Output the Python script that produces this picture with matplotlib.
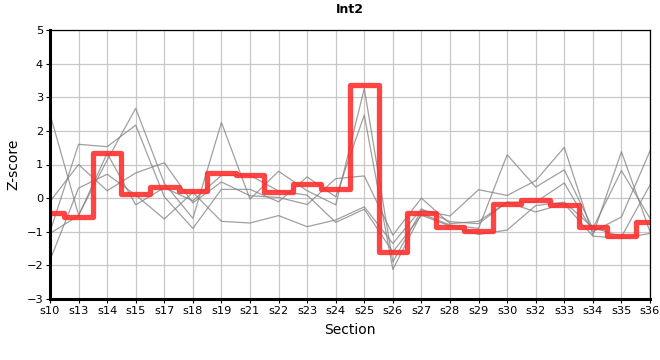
import matplotlib
matplotlib.use('Agg')
import matplotlib.pyplot as plt

sections = ['s10', 's13', 's14', 's15', 's17', 's18', 's19', 's21', 's22', 's23', 's24',
            's25', 's26', 's27', 's28', 's29', 's30', 's32', 's33', 's34', 's35', 's36']

# highlighted series (Int2)
int2 = [-0.45, -0.55, 1.35, 0.12, 0.34, 0.22, 0.75, 0.68, 0.19, 0.42, 0.26,
        3.36, -1.6, -0.44, -0.85, -0.97, -0.18, -0.06, -0.21, -0.85, -1.12, -0.72]

# other series, drawn in gray
others = [
    [2.5, -0.5, 1.13, 2.67, 0.44, -0.6, 2.25, -0.03, 0.8, 0.22, -0.2,
     3.26, -1.9, -0.36, -0.53, 0.25, 0.08, 0.52, 1.51, -1.1, 1.38, -1.0],
    [-1.0, 1.6, 1.53, 2.17, 0.04, -0.9, 0.26, 0.26, -0.11, 0.63, 0.04,
     2.47, -2.12, -0.46, -0.8, -0.9, 1.29, 0.33, 0.84, -0.9, 0.82, -0.6],
    [-0.1, 1.0, 0.22, 0.75, 1.05, -0.14, 0.48, 0.07, 0.02, -0.19, 0.58,
     0.66, -1.1, 0.0, -0.76, -0.69, -0.12, -0.41, -0.17, -1.13, -1.2, -1.05],
    [-1.85, 0.3, 0.71, 0.09, -0.62, 0.17, -0.69, -0.74, -0.52, -0.85, -0.65,
     -0.26, -1.35, -0.32, -0.7, -0.76, -0.12, -0.12, 0.45, -1.0, -0.56, 1.4],
    [-1.05, -0.52, 1.33, -0.2, 0.31, -0.08, 0.68, 0.68, 0.21, 0.09, -0.72,
     -0.33, -1.6, -0.51, -0.83, -1.08, -0.95, -0.22, -0.12, -0.87, -1.15, 0.39],
]

x = list(range(len(sections)))

fig = plt.figure(figsize=(6.6, 3.6), dpi=100)
ax = fig.add_axes([50/660, 1 - 299/360, 600/660, 269/360])

for s in others:
    ax.plot(x, s, color='#808080', alpha=0.75, linewidth=0.9)

ax.plot(x, int2, color='#ff2a2a', alpha=0.88, linewidth=3.8,
        drawstyle='steps-mid', solid_joinstyle='round', solid_capstyle='round')

ax.set_xlim(0, len(sections) - 1)
ax.set_ylim(-3, 5)
ax.set_xticks(x)
ax.set_xticklabels(sections)
ax.set_yticks(range(-3, 6))

ax.grid(color='#c8c8c8', linewidth=0.9)
ax.set_axisbelow(True)

for side in ['top', 'right']:
    ax.spines[side].set_linewidth(0.9)
for side in ['left', 'bottom']:
    ax.spines[side].set_linewidth(2.2)

ax.tick_params(labelsize=8.2, length=3, width=0.8, pad=2)
ax.set_xlabel('Section', fontsize=10, labelpad=5)
ax.set_ylabel('Z-score', fontsize=10, labelpad=4)
ax.set_title('Int2', fontsize=9, fontweight='bold', pad=12)

fig.savefig('out.png', dpi=100)
